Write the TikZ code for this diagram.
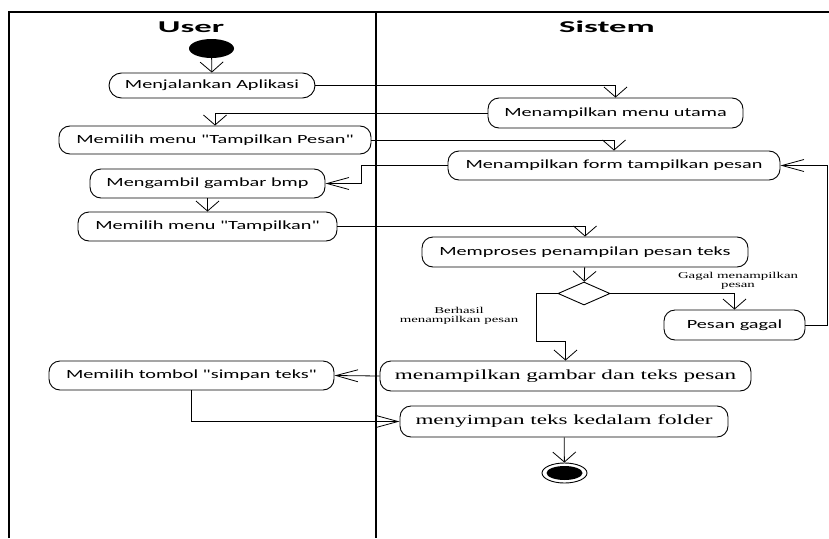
\documentclass[tikz,border=0pt]{standalone}
\usepackage{fontspec}
\usetikzlibrary{arrows.meta,shapes.geometric,calc}
\newfontfamily\boxfont[FakeStretch=1.62]{Carlito}
\newfontfamily\seriffont[FakeStretch=1.65]{Liberation Serif}
\newfontfamily\titlefont[FakeStretch=2.1]{Carlito}

\begin{document}
\begin{tikzpicture}[x=1pt,y=-1pt,
  act/.style={draw, line width=0.9pt, rounded corners=11pt, inner sep=0pt, align=center},
  sansact/.style={act, font=\boxfont\fontsize{12.5}{14}\selectfont},
  serifact/.style={act, font=\seriffont\fontsize{14}{16}\selectfont},
  flow/.style={line width=0.8pt},
  varrow/.style={flow, -{Straight Barb[length=10pt,width=23pt]}},
  harrow/.style={flow, -{Straight Barb[length=22pt,width=12pt]}},
  guard/.style={font=\seriffont\fontsize{9}{9}\selectfont, align=center, inner sep=0pt},
  lanetitle/.style={font=\titlefont\bfseries\fontsize{16.5}{18}\selectfont, inner sep=0pt}
]
\useasboundingbox (0,0) rectangle (829,538);

% swimlane frame
\draw[line width=1.2pt] (9,538) -- (9,12) -- (829,12);
\draw[line width=2pt] (376,12) -- (376,538);
\node[lanetitle] (tuser) at (191,27) {User};
\node[lanetitle] (tsys) at (607,27) {Sistem};

% start and end states
\node[ellipse, fill=black, minimum width=45pt, minimum height=19pt, inner sep=0pt] (start) at (211.5,48.5) {};
\node[ellipse, draw, line width=0.9pt, minimum width=45pt, minimum height=20pt, inner sep=0pt] (stop) at (564.5,473) {};
\fill (stop.center) ellipse [x radius=18pt, y radius=7pt];

% user activities
\node[sansact, rounded corners=12.5pt, minimum width=206pt, minimum height=25pt] (app) at (212,85.5) {Menjalankan Aplikasi};
\node[sansact, minimum width=312pt, minimum height=28pt] (tps) at (215,140) {Memilih menu "Tampilkan Pesan"};
\node[sansact, minimum width=235pt, minimum height=29pt] (bmp) at (207.5,183.5) {Mengambil gambar bmp};
\node[sansact, minimum width=259pt, minimum height=29pt] (tpk) at (207.5,226.5) {Memilih menu "Tampilkan"};
\node[sansact, minimum width=285pt, minimum height=29pt] (simpan) at (191.5,375.5) {Memilih tombol "simpan teks"};

% system activities
\node[sansact, minimum width=255pt, minimum height=30pt] (menu) at (615.5,113) {Menampilkan menu utama};
\node[sansact, minimum width=332pt, minimum height=29pt] (form) at (614,165.5) {Menampilkan form tampilkan pesan};
\node[sansact, minimum width=326pt, minimum height=30pt] (proses) at (585,252) {Memproses penampilan pesan teks};
\node[diamond, draw, line width=0.9pt, minimum width=52pt, minimum height=23pt, inner sep=0pt] (dia) at (584,293.5) {};
\node[sansact, minimum width=141pt, minimum height=30pt] (gagal) at (734.5,325) {Pesan gagal};
\node[serifact, minimum width=371pt, minimum height=30pt] (gambar) at (565.5,376) {menampilkan gambar dan teks pesan};
\node[serifact, minimum width=328pt, minimum height=31pt] (folder) at (564,421.5) {menyimpan teks kedalam folder};

% guard labels
\node[guard] (lgagal) at (738,281) {Gagal menampilkan\\pesan};
\node[guard] (lok) at (459,316) {Berhasil\\menampilkan pesan};

% control flow
\draw[varrow] (start) -- (app);
\draw[varrow] (app.east) -| (menu.north);
\draw[varrow] (menu.west) -| (tps.north);
\draw[varrow] (tps.east) -| (form.north);
\draw[harrow] (form.west) -- ++(-86,0) |- (bmp.east);
\draw[varrow] (bmp) -- (tpk);
\draw[varrow] (tpk.east) -| (proses.north);
\draw[varrow] (proses) -- (dia);
\draw[varrow] (dia.east) -| (gagal.north);
\draw[varrow] (dia.west) -- ++(-21,0) |- ($(gambar.north)+(0,-19)$) -- (gambar.north);
\draw[harrow] (gagal.east) -- ++(22,0) |- (form.east);
\draw[harrow] (gambar.west) -- (simpan.east);
\draw[harrow] (simpan.south) |- (folder.west);
\draw[varrow] (folder) -- (stop);
\end{tikzpicture}
\end{document}
